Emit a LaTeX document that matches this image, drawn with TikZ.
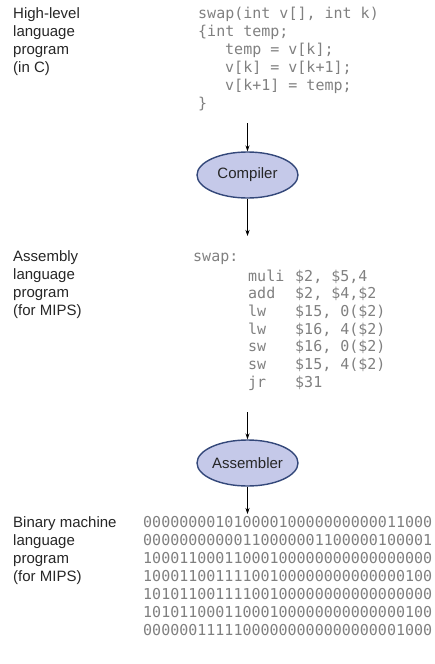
\documentclass[tikz,border=0pt]{standalone}
\usepackage{fontspec}
\setmainfont{Liberation Sans}
\setmonofont{DejaVu Sans Mono}
\usetikzlibrary{shapes.geometric,arrows.meta}
\definecolor{codegray}{RGB}{128,128,128}
\definecolor{ovalfill}{RGB}{197,201,233}
\definecolor{ovalline}{RGB}{52,72,122}

\begin{document}
\begin{tikzpicture}[x=1pt,y=-1pt,
  sidetext/.style={anchor=base west,inner sep=0pt,font=\fontsize{15}{18}\selectfont,text=black!85},
  codetext/.style={anchor=base west,inner sep=0pt,font=\ttfamily\fontsize{15}{18}\selectfont,text=codegray},
  tool/.style={ellipse,draw=ovalline,fill=ovalfill,line width=1.4pt,minimum width=101pt,minimum height=46pt,inner sep=0pt,font=\fontsize{15}{18}\selectfont,text=black!85},
  flow/.style={-{Stealth[length=6pt,width=4pt]},line width=0.8pt}]
  \useasboundingbox (0,0) rectangle (435,664);

  % high-level program
  \foreach \t [count=\i] in {High-level,language,program,(in C)}
    \node[sidetext] (hll\i) at (13,18*\i) {\t};
  \node[codetext] (c1) at (198,18) {swap(int v[], int k)};
  \node[codetext] (c2) at (198,36) {\{int temp;};
  \node[codetext] (c3) at (225,54) {temp = v[k];};
  \node[codetext] (c4) at (225,72) {v[k] = v[k+1];};
  \node[codetext] (c5) at (225,90) {v[k+1] = temp;};
  \node[codetext] (c6) at (198,108) {\}};

  % compiler
  \coordinate (in1) at (247.5,123);
  \node[tool] (comp) at (247.5,175) {Compiler};
  \coordinate (out1) at (247.5,236);
  \draw[flow] (in1) -- (comp);
  \draw[flow] (comp) -- (out1);

  % assembly program
  \foreach \t [count=\i] in {Assembly,language,program,(for MIPS)}
    \node[sidetext] (asl\i) at (13,243+18*\i) {\t};
  \node[codetext] (swp) at (193,261) {swap:};
  \foreach \op/\arg [count=\i] in {muli/{\$2, \$5,4},add/{\$2, \$4,\$2},lw/{\$15, 0(\$2)},lw/{\$16, 4(\$2)},sw/{\$16, 0(\$2)},sw/{\$15, 4(\$2)},jr/{\$31}}{
    \node[codetext] (op\i) at (248,263.3+17.7*\i) {\op};
    \node[codetext] (arg\i) at (295,263.3+17.7*\i) {\arg};
  }

  % assembler
  \coordinate (in2) at (247.5,412);
  \node[tool] (asmb) at (247.5,463) {Assembler};
  \coordinate (out2) at (247.5,514);
  \draw[flow] (in2) -- (asmb);
  \draw[flow] (asmb) -- (out2);

  % binary program
  \foreach \t [count=\i] in {Binary machine,language,program,(for MIPS)}
    \node[sidetext] (bml\i) at (13,509+18*\i) {\t};
  \foreach \b [count=\i] in {00000000101000010000000000011000,00000000000110000001100000100001,10001100011000100000000000000000,10001100111100100000000000000100,10101100111100100000000000000000,10101100011000100000000000000100,00000011111000000000000000001000}
    \node[codetext] (bin\i) at (143,509+18*\i) {\b};
\end{tikzpicture}
\end{document}
